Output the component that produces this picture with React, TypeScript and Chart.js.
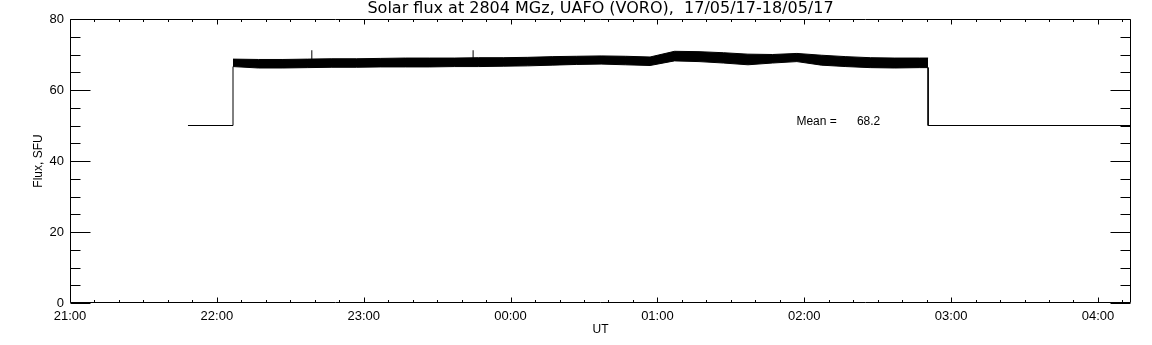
import { useEffect, useRef } from "react";
import { Chart, registerables } from "chart.js";

Chart.register(...registerables);

const TITLE = "Solar flux at 2804 MGz, UAFO (VORO),  17/05/17-18/05/17";
const Y_TITLE = "Flux, SFU";
const X_TITLE = "UT";
const MEAN_LABEL = "Mean =";
const MEAN_VALUE = 68.2;

// x values are minutes after 21:00 UT
const START_HOUR = 21;
const X_MIN = 0;
const X_MAX = 433.5;
const Y_MIN = 0;
const Y_MAX = 80;
const X_MAJOR_STEP = 60;
const X_MINOR_STEP = 10;
const Y_MAJOR_STEP = 20;
const Y_MINOR_STEP = 5;

const signalMinutes = [66.6, 77, 87, 97, 107, 117, 127, 137, 147, 157, 167, 177, 187, 197, 207, 217, 227, 237, 247, 257, 267, 277, 287, 297, 307, 317, 327, 337, 347, 350.6];
const signalUpper = [68.7, 68.6, 68.6, 68.7, 68.8, 68.8, 68.9, 69.0, 69.0, 69.0, 69.1, 69.1, 69.2, 69.4, 69.5, 69.6, 69.5, 69.3, 70.9, 70.8, 70.5, 70.1, 70.0, 70.3, 69.8, 69.4, 69.1, 69.0, 69.0, 69.0];
const signalLower = [66.6, 66.2, 66.2, 66.3, 66.4, 66.4, 66.5, 66.5, 66.5, 66.6, 66.6, 66.7, 66.8, 67.0, 67.2, 67.3, 67.1, 66.9, 68.2, 68.0, 67.6, 67.1, 67.6, 68.0, 67.0, 66.6, 66.3, 66.2, 66.3, 66.3];

const preStepMinutes = [48.2, 66.6, 66.6];
const preStepValues = [50, 50, 66.6];
const postStepMinutes = [350.6, 350.6, 433.5];
const postStepValues = [66.3, 50, 50];

const spikeMinutes = [98.8, 164.7];
const spikeBase = [68.6, 68.9];
const spikeTop = [71.2, 71.2];

// where the "Mean =" note sits, in data units
const meanLabelAt = { x: 296.8, y: 51.2 };
const meanValueAt = { x: 321.5, y: 51.2 };

const zip = (xs: number[], ys: number[]) => xs.map((x, i) => ({ x, y: ys[i] }));

const spikeData: { x: number; y: number | null }[] = [];
spikeMinutes.forEach((m, i) => {
  spikeData.push({ x: m, y: spikeBase[i] });
  spikeData.push({ x: m, y: spikeTop[i] });
  spikeData.push({ x: m, y: null });
});

const fmtTime = (m: number) => {
  const h = (START_HOUR + Math.round(m / 60)) % 24;
  return String(h).padStart(2, "0") + ":00";
};

const framePlugin = {
  id: "frameTicks",
  afterDraw(chart: any) {
    const { ctx, chartArea: a, scales } = chart;
    const x = scales.x;
    const y = scales.y;
    ctx.save();
    ctx.strokeStyle = "#000";
    ctx.lineWidth = 1;
    const L = Math.round(a.left) + 0.5;
    const R = Math.round(a.right) - 0.5;
    const T = Math.round(a.top) + 0.5;
    const B = Math.round(a.bottom) - 0.5;
    ctx.beginPath();
    ctx.rect(L, T, R - L, B - T);
    for (let m = X_MIN; m <= X_MAX; m += X_MINOR_STEP) {
      const px = Math.round(x.getPixelForValue(m)) + 0.5;
      const len = m % X_MAJOR_STEP === 0 ? 5 : 2.5;
      ctx.moveTo(px, B);
      ctx.lineTo(px, B - len);
      ctx.moveTo(px, T);
      ctx.lineTo(px, T + len);
    }
    for (let v = Y_MIN; v <= Y_MAX; v += Y_MINOR_STEP) {
      const py = Math.round(y.getPixelForValue(v)) + 0.5;
      const len = v % Y_MAJOR_STEP === 0 ? 20 : 10;
      ctx.moveTo(L, py);
      ctx.lineTo(L + len, py);
      ctx.moveTo(R, py);
      ctx.lineTo(R - len, py);
    }
    ctx.stroke();

    ctx.fillStyle = "#000";
    ctx.font = "12px 'Liberation Sans'";
    ctx.textBaseline = "middle";
    ctx.textAlign = "left";
    ctx.fillText(MEAN_LABEL, x.getPixelForValue(meanLabelAt.x), y.getPixelForValue(meanLabelAt.y));
    ctx.fillText(MEAN_VALUE.toFixed(1), x.getPixelForValue(meanValueAt.x), y.getPixelForValue(meanValueAt.y));
    ctx.restore();
  },
};

export default function App() {
  const ref = useRef<HTMLCanvasElement | null>(null);

  useEffect(() => {
    document.body.style.margin = "0";
    const canvas = ref.current;
    if (!canvas) return;
    Chart.defaults.font.family = "'Liberation Sans', Arial, sans-serif";
    Chart.defaults.color = "#000";

    const line = { borderColor: "#000", borderWidth: 1, pointRadius: 0, tension: 0, fill: false };

    const chart = new Chart(canvas, {
      type: "line",
      data: {
        datasets: [
          { ...line, label: "before", data: zip(preStepMinutes, preStepValues) },
          { ...line, label: "lower", data: zip(signalMinutes, signalLower) },
          { ...line, label: "upper", data: zip(signalMinutes, signalUpper), fill: "-1", backgroundColor: "#000" },
          { ...line, label: "after", data: zip(postStepMinutes, postStepValues) },
          { ...line, label: "spikes", data: spikeData as any, spanGaps: false },
        ],
      },
      options: {
        responsive: false,
        animation: false,
        events: [],
        layout: { padding: { left: 0, right: 21, top: 0, bottom: 0 } },
        plugins: {
          legend: { display: false },
          tooltip: { enabled: false },
          title: {
            display: true,
            text: TITLE,
            fullSize: false,
            color: "#000",
            font: { family: "'DejaVu Sans'", size: 16, weight: "normal", lineHeight: 1.15 },
            padding: { top: 0, bottom: 0.6 },
          },
        },
        scales: {
          x: {
            type: "linear",
            min: X_MIN,
            max: X_MAX,
            grid: { display: false, drawTicks: false },
            border: { display: false },
            ticks: {
              stepSize: X_MAJOR_STEP,
              includeBounds: false,
              padding: 6,
              maxRotation: 0,
              autoSkip: false,
              font: { size: 13 },
              color: "#000",
              callback: (v: any) => (Number(v) % X_MAJOR_STEP === 0 ? fmtTime(Number(v)) : ""),
            },
            title: { display: true, text: X_TITLE, font: { size: 12 }, color: "#000", padding: { top: 0, bottom: 7.8 } },
            afterFit: (s: any) => {
              s.height = 42;
            },
          },
          y: {
            min: Y_MIN,
            max: Y_MAX,
            grid: { display: false, drawTicks: false },
            border: { display: false },
            ticks: { stepSize: Y_MAJOR_STEP, padding: 6, font: { size: 13 }, color: "#000" },
            title: { display: true, text: Y_TITLE, font: { size: 12 }, color: "#000", padding: { top: 31.8, bottom: 0 } },
            afterFit: (s: any) => {
              s.width = 70;
            },
          },
        },
      },
      plugins: [framePlugin],
    });
    return () => chart.destroy();
  }, []);

  return (
    <div style={{ width: 1152, height: 345, background: "#fff" }}>
      <canvas ref={ref} width={1152} height={345} />
    </div>
  );
}
